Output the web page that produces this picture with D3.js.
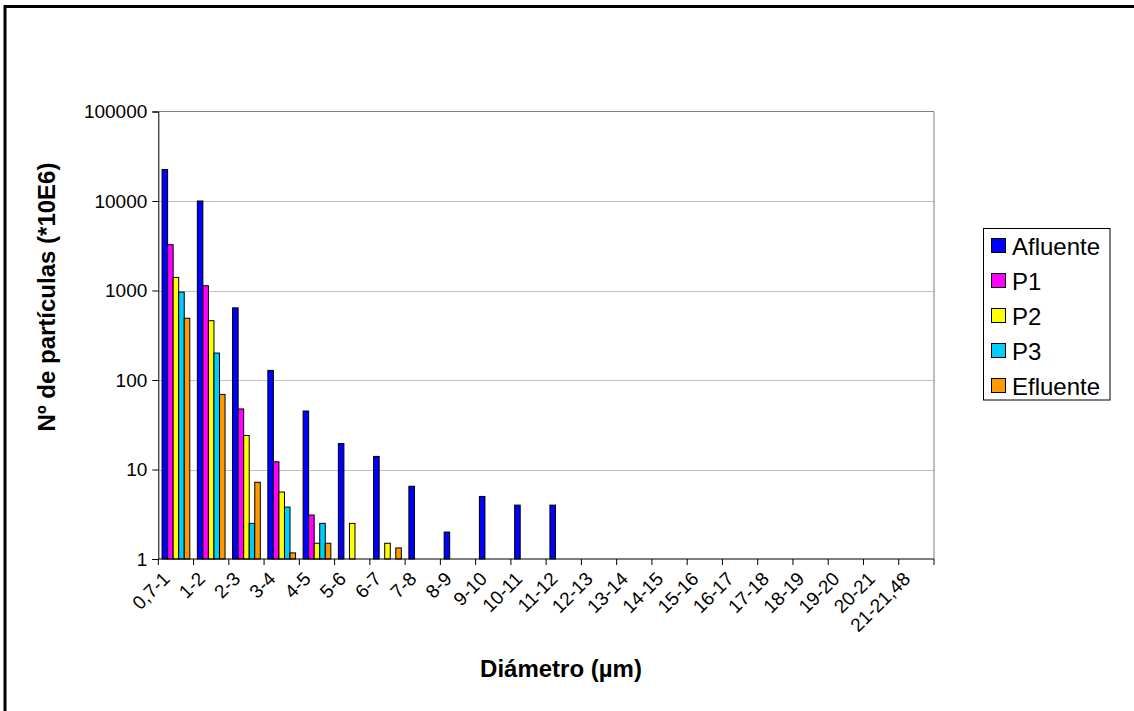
<!DOCTYPE html>
<html lang="es">
<head>
  <meta charset="UTF-8">
  <title>Nº de partículas por diámetro</title>
  <script src="https://d3js.org/d3.v7.min.js"></script>
  <style>
    body {
      margin: 0;
      background: #fff;
    }
    svg {
      display: block;
      font-family: Arial, "Liberation Sans", sans-serif;
    }
    .tick-label { font-size: 19px; fill: #000; }
    .axis-title { font-size: 24px; font-weight: bold; fill: #000; }
    .legend text { font-size: 24px; fill: #000; }
  </style>
</head>
<body>
  <svg width="1134" height="711"></svg>

  <script>
    // Diameter classes (µm)
    const categories = ["0,7-1", "1-2", "2-3", "3-4", "4-5", "5-6", "6-7", "7-8", "8-9", "9-10",
                        "10-11", "11-12", "12-13", "13-14", "14-15", "15-16", "16-17", "17-18",
                        "18-19", "19-20", "20-21", "21-21,48"];

    const seriesNames = ["Afluente", "P1", "P2", "P3", "Efluente"];
    const seriesColors = ["#0000FF", "#FF00FF", "#FFFF00", "#00CCFF", "#FF9900"];

    // Values (null = no bar)
    const afluente = [22500, 10000, 640, 128, 45, 19.5, 14, 6.5, 2, 5, 4, 4,
                      null, null, null, null, null, null, null, null, null, null];
    const p1       = [3250, 1130, 47.5, 12.2, 3.1, null, null, null, null, null, null, null,
                      null, null, null, null, null, null, null, null, null, null];
    const p2       = [1400, 460, 24, 5.6, 1.5, 2.5, 1.5, null, null, null, null, null,
                      null, null, null, null, null, null, null, null, null, null];
    const p3       = [960, 200, 2.5, 3.8, 2.5, null, null, null, null, null, null, null,
                      null, null, null, null, null, null, null, null, null, null];
    const efluente = [490, 69, 7.2, 1.17, 1.5, null, 1.33, null, null, null, null, null,
                      null, null, null, null, null, null, null, null, null, null];

    const yTicks = [1, 10, 100, 1000, 10000, 100000];

    const seriesValues = [afluente, p1, p2, p3, efluente];

    const svg = d3.select("svg");

    // plot area
    const plotLeft = 158.3, plotRight = 934, plotTop = 111.5, plotBottom = 559;

    const x = d3.scaleBand()
                .domain(categories)
                .range([plotLeft, plotRight]);

    const x1 = d3.scaleBand()
                 .domain(seriesNames)
                 .range([0, x.bandwidth()])
                 .paddingOuter(0.68);

    const y = d3.scaleLog()
                .domain([1, 100000])
                .range([plotBottom, plotTop]);

    // outer chart frame (only top and left edges fall inside the picture)
    svg.append("rect")
       .attr("x", 5).attr("y", 6.5)
       .attr("width", 1300).attr("height", 900)
       .attr("fill", "#fff")
       .attr("stroke", "#000")
       .attr("stroke-width", 3);

    // gridlines
    svg.append("g")
       .selectAll("line")
       .data(yTicks.filter(d => d > 1 && d < 100000))
       .enter()
       .append("line")
       .attr("x1", plotLeft).attr("x2", plotRight)
       .attr("y1", d => Math.round(y(d)) + 0.5)
       .attr("y2", d => Math.round(y(d)) + 0.5)
       .attr("stroke", "#c0c0c0")
       .attr("stroke-width", 1);

    // plot area border (top and right)
    svg.append("path")
       .attr("d", `M${plotLeft},${plotTop}H${plotRight}V${plotBottom}`)
       .attr("fill", "none")
       .attr("stroke", "#808080")
       .attr("stroke-width", 1);

    // bars
    const rows = [];
    seriesValues.forEach((vals, s) => {
      vals.forEach((v, i) => {
        if (v != null) rows.push({ cat: categories[i], series: seriesNames[s], color: seriesColors[s], value: v });
      });
    });

    svg.append("g")
       .selectAll("rect")
       .data(rows)
       .enter()
       .append("rect")
       .attr("x", d => x(d.cat) + x1(d.series))
       .attr("y", d => y(d.value))
       .attr("width", x1.bandwidth())
       .attr("height", d => plotBottom - y(d.value))
       .attr("fill", d => d.color)
       .attr("stroke", "#000")
       .attr("stroke-width", 1);

    // y axis
    const yAxis = d3.axisLeft(y)
                    .tickValues(yTicks)
                    .tickFormat(d3.format("d"))
                    .tickSize(6)
                    .tickPadding(5);

    const yg = svg.append("g")
                  .attr("transform", `translate(${plotLeft},0)`)
                  .call(yAxis);
    yg.attr("font-family", null).attr("font-size", null);
    yg.select(".domain").attr("stroke", "#000");
    yg.selectAll(".tick line").attr("stroke", "#000");
    yg.selectAll(".tick text").attr("class", "tick-label");

    // x axis: ticks between categories
    const boundaries = categories.map(c => x(c)).concat([plotRight]);
    svg.append("g")
       .selectAll("line")
       .data(boundaries)
       .enter()
       .append("line")
       .attr("x1", d => d).attr("x2", d => d)
       .attr("y1", plotBottom).attr("y2", plotBottom + 6)
       .attr("stroke", "#000");

    svg.append("line")
       .attr("x1", plotLeft).attr("x2", plotRight)
       .attr("y1", plotBottom).attr("y2", plotBottom)
       .attr("stroke", "#000");

    svg.append("g")
       .selectAll("text")
       .data(categories)
       .enter()
       .append("text")
       .attr("class", "tick-label")
       .attr("text-anchor", "end")
       .attr("transform", d => `translate(${x(d) + x.bandwidth() / 2 - 5},580) rotate(-45)`)
       .text(d => d);

    // axis titles
    svg.append("text")
       .attr("class", "axis-title")
       .attr("text-anchor", "middle")
       .attr("x", 561)
       .attr("y", 677)
       .text("Diámetro (µm)");

    svg.append("text")
       .attr("class", "axis-title")
       .attr("text-anchor", "middle")
       .attr("transform", "translate(55,297) rotate(-90)")
       .text("Nº de partículas (*10E6)");

    // legend
    const legend = svg.append("g").attr("class", "legend");

    legend.append("rect")
          .attr("x", 983.5).attr("y", 228.5)
          .attr("width", 126.5).attr("height", 171.5)
          .attr("fill", "#fff")
          .attr("stroke", "#000");

    const items = legend.selectAll("g.item")
                        .data(seriesNames)
                        .enter()
                        .append("g")
                        .attr("class", "item")
                        .attr("transform", (d, i) => `translate(991,${238 + i * 35})`);

    items.append("rect")
         .attr("x", 0.5).attr("y", 0.5)
         .attr("width", 14).attr("height", 14)
         .attr("fill", (d, i) => seriesColors[i])
         .attr("stroke", "#000");

    items.append("text")
         .attr("x", 21)
         .attr("y", 17)
         .text(d => d);
  </script>
</body>
</html>
